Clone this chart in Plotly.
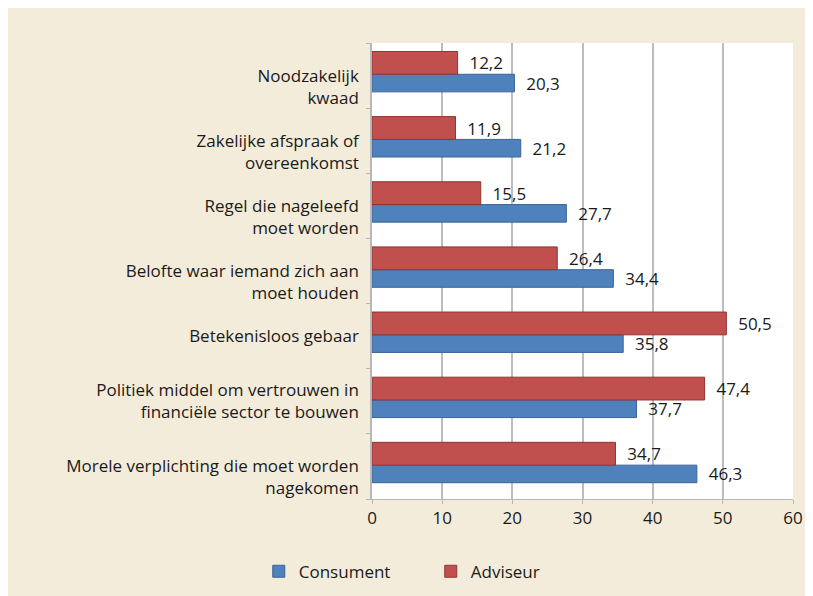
import plotly.graph_objects as go

categories = [
    "Noodzakelijk kwaad",
    "Zakelijke afspraak of overeenkomst",
    "Regel die nageleefd moet worden",
    "Belofte waar iemand zich aan moet houden",
    "Betekenisloos gebaar",
    "Politiek middel om vertrouwen in financiële sector te bouwen",
    "Morele verplichting die moet worden nagekomen",
]
tick_labels = [
    " <br>Noodzakelijk<br>kwaad",
    " <br>Zakelijke afspraak of<br>overeenkomst",
    " <br>Regel die nageleefd<br>moet worden",
    " <br>Belofte waar iemand zich aan<br>moet houden",
    "Betekenisloos gebaar",
    "Politiek middel om vertrouwen in<br>financiële sector te bouwen",
    " <br>Morele verplichting die moet worden<br>nagekomen",
]
consument = [20.3, 21.2, 27.7, 34.4, 35.8, 37.7, 46.3]
adviseur = [12.2, 11.9, 15.5, 26.4, 50.5, 47.4, 34.7]
x_ticks = [0, 10, 20, 30, 40, 50, 60]

def fmt(v):
    return "  " + f"{v:.1f}".replace(".", ",")

cats_bt = categories[::-1]
FONT = "Open Sans"

fig = go.Figure()
fig.add_trace(go.Bar(
    name="Consument" + "\u00a0" * 8, y=cats_bt, x=consument[::-1], orientation="h",
    width=0.27, offset=-0.25,
    marker=dict(color="#4f81bd", line=dict(color="#3b6595", width=1)),
    text=[fmt(v) for v in consument[::-1]], textposition="outside",
    constraintext="none",
    textfont=dict(size=17, color="#1a1a1a", family=FONT), cliponaxis=False,
))
fig.add_trace(go.Bar(
    name="Adviseur", y=cats_bt, x=adviseur[::-1], orientation="h",
    width=0.35, offset=0.02,
    marker=dict(color="#c0504d", line=dict(color="#8f3431", width=1)),
    text=[fmt(v) for v in adviseur[::-1]], textposition="outside",
    constraintext="none",
    textfont=dict(size=17, color="#1a1a1a", family=FONT), cliponaxis=False,
))

# page body has 8px margin; figure coords = screen coords - 8
L, R, T, B = 364, 28, 35, 105
W, H = 813, 596

fig.update_layout(
    width=W, height=H,
    margin=dict(l=L, r=R, t=T, b=B),
    paper_bgcolor="#f4ecdb", plot_bgcolor="white",
    barmode="overlay",
    font=dict(family=FONT, size=17, color="#1a1a1a"),
    showlegend=True,
    legend=dict(orientation="h", x=-0.269, xanchor="left", y=-0.12, yanchor="top",
                font=dict(size=17), traceorder="normal", itemwidth=30,
                bgcolor="rgba(0,0,0,0)"),
    xaxis=dict(range=[0, 60], tickvals=x_ticks, ticktext=[str(v) for v in x_ticks],
               showgrid=True, gridcolor="#bdbdbd", gridwidth=1.5, zeroline=False,
               showline=True, linecolor="#b8b8b8", ticks="outside", ticklen=4,
               tickcolor="#b8b8b8", tickfont=dict(size=17)),
    yaxis=dict(categoryorder="array", categoryarray=cats_bt,
               tickvals=cats_bt, ticktext=tick_labels[::-1],
               range=[-0.5, len(categories) - 0.5],
               showline=True, linecolor="#b8b8b8", linewidth=1.5,
               ticks="outside", tickson="boundaries", ticklen=4, tickcolor="#b8b8b8",
               showgrid=False,
               tickfont=dict(size=17), ticklabelstandoff=8, automargin=False),
)

fig.write_html("out.html")
